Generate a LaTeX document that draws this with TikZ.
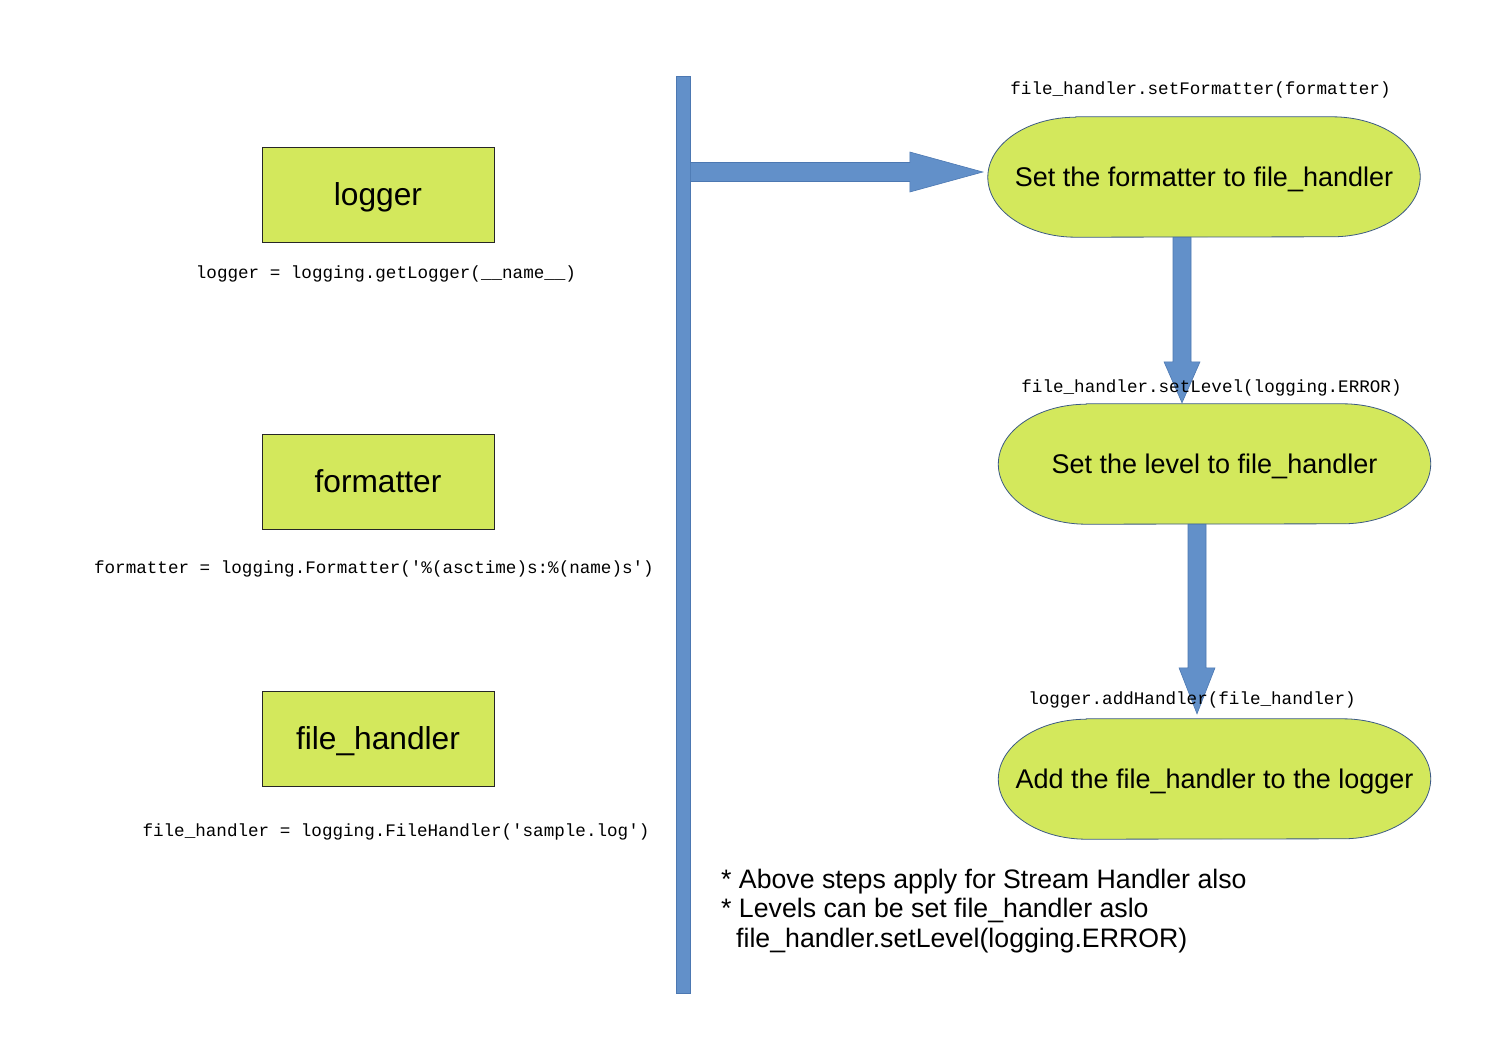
\documentclass[tikz,border=0pt]{standalone}
\usepackage{fontspec}
\setmainfont{Liberation Sans}
\setmonofont{Liberation Mono}
\usetikzlibrary{calc,backgrounds}
\definecolor{boxgreen}{HTML}{D3E85C}
\definecolor{arrowblue}{HTML}{6290C9}
\definecolor{arrowedge}{HTML}{4C78B2}
\definecolor{termedge}{HTML}{3C5A84}
\newcommand\termpath[1]{%
  \filldraw[termshape] ([xshift=88pt]#1.north west) -- ([xshift=-88pt]#1.north east)
    arc[start angle=90,end angle=-90,x radius=88pt,y radius=60pt]
    -- ([xshift=88pt]#1.south west)
    arc[start angle=270,end angle=90,x radius=88pt,y radius=60pt] -- cycle;}
\begin{document}
\begin{tikzpicture}[x=1pt,y=1pt,
  boxstyle/.style={draw=black!85, line width=1pt, fill=boxgreen, minimum width=232pt, minimum height=95pt,
    inner sep=0pt, font=\fontsize{31.7}{36}\selectfont, text height=23pt, text depth=1.5pt},
  termnode/.style={minimum width=432pt, minimum height=120pt, inner sep=0pt,
    font=\fontsize{27}{31}\selectfont, text height=19.7pt, text depth=1pt},
  termshape/.style={fill=boxgreen, draw=termedge, line width=0.8pt},
  blockarrow/.style={fill=arrowblue, draw=arrowedge, line width=0.6pt},
  barstyle/.style={fill=arrowblue, draw=arrowedge, line width=0.6pt, inner sep=0pt},
  code/.style={inner sep=0pt, anchor=base, font=\fontsize{17.6}{20}\selectfont\ttfamily},
  note/.style={inner sep=0pt, anchor=base west, font=\fontsize{26.7}{29.5}\selectfont}]
\useasboundingbox (0,0) rectangle (1497,-1058);

% left boxes
\node[boxstyle] (logger) at (378,-194.5) {logger};
\node[boxstyle] (formatter) at (378,-481.5) {formatter};
\node[boxstyle] (fh) at (378,-738.5) {file\_handler};

% vertical bar
\node[barstyle, minimum width=14pt, minimum height=917pt] (bar) at (683,-534.5) {};

% right terminators
\node[termnode] (e1) at (1204,-177) {Set the formatter to file\_handler};
\node[termnode] (e2) at (1214.5,-464) {Set the level to file\_handler};
\node[termnode] (e3) at (1214.5,-779) {Add the file\_handler to the logger};
\begin{pgfonlayer}{background}
  \fill[white] (0,0) rectangle (1497,-1058);
  \termpath{e1}
  \termpath{e2}
  \termpath{e3}
\end{pgfonlayer}

% horizontal block arrow: bar -> e1
\coordinate (h1) at ([xshift=-5pt,yshift=5pt]e1.west);
\coordinate (h0) at (bar.east |- h1);
\filldraw[blockarrow] ([yshift=9.5pt]h0) -- ([xshift=-73pt,yshift=9.5pt]h1)
  -- ([xshift=-73pt,yshift=20pt]h1) -- (h1) -- ([xshift=-73pt,yshift=-20pt]h1)
  -- ([xshift=-73pt,yshift=-9.5pt]h1) -- ([yshift=-9.5pt]h0) -- cycle;

% down block arrow: e1 -> e2
\coordinate (d0) at ([xshift=-22pt]e1.south);
\coordinate (d1) at ([yshift=1pt]d0 |- e2.north);
\filldraw[blockarrow] ([xshift=-9pt]d0) -- ([xshift=-9pt,yshift=41pt]d1)
  -- ([xshift=-18pt,yshift=41pt]d1) -- (d1) -- ([xshift=18pt,yshift=41pt]d1)
  -- ([xshift=9pt,yshift=41pt]d1) -- ([xshift=9pt]d0) -- cycle;

% down block arrow: e2 -> e3
\coordinate (g0) at ([xshift=-17.5pt]e2.south);
\coordinate (g1) at ([yshift=5pt]g0 |- e3.north);
\filldraw[blockarrow] ([xshift=-9pt]g0) -- ([xshift=-9pt,yshift=46pt]g1)
  -- ([xshift=-18pt,yshift=46pt]g1) -- (g1) -- ([xshift=18pt,yshift=46pt]g1)
  -- ([xshift=9pt,yshift=46pt]g1) -- ([xshift=9pt]g0) -- cycle;

% code labels
\node[code] (c1) at (386,-278) {logger = logging.getLogger(\_\_name\_\_)};
\node[code] (c2) at (374,-573) {formatter = logging.Formatter(\textquotesingle\%(asctime)s:\%(name)s\textquotesingle)};
\node[code] (c3) at (396,-836) {file\_handler = logging.FileHandler(\textquotesingle sample.log\textquotesingle)};
\node[code] (r1) at (1200.5,-94) {file\_handler.setFormatter(formatter)};
\node[code] (r2) at (1211.5,-392) {file\_handler.setLevel(logging.ERROR)};
\node[code] (r3) at (1192,-704) {logger.addHandler(file\_handler)};

% notes
\node[note] (n1) at (721,-888) {* Above steps apply for Stream Handler also};
\node[note] (n2) at (721,-917) {* Levels can be set file\_handler aslo};
\node[note] (n3) at (736,-947) {file\_handler.setLevel(logging.ERROR)};
\end{tikzpicture}
\end{document}
